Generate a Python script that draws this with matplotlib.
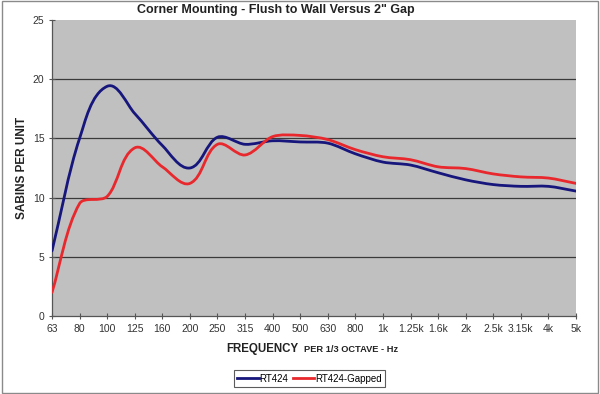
#!/usr/bin/env python3
"""Corner mounting absorption chart: flush to wall vs 2 inch gap."""

import matplotlib

matplotlib.use("Agg")

import matplotlib.pyplot as plt
import numpy as np
from matplotlib.lines import Line2D
from matplotlib.patches import PathPatch, Rectangle
from matplotlib.path import Path

FREQS = ["63", "80", "100", "125", "160", "200", "250", "315", "400", "500",
         "630", "800", "1k", "1.25k", "1.6k", "2k", "2.5k", "3.15k", "4k", "5k"]
RT424 = [5.5, 15.0, 19.4, 17.1, 14.4, 12.5, 15.1, 14.5, 14.8, 14.7,
         14.6, 13.7, 13.0, 12.75, 12.1, 11.5, 11.1, 10.95, 10.95, 10.55]
RT424_GAPPED = [2.0, 9.5, 10.1, 14.2, 12.6, 11.2, 14.5, 13.6, 15.15, 15.25,
                14.9, 14.05, 13.45, 13.2, 12.6, 12.45, 12.0, 11.75, 11.65, 11.2]

COLORS = {
    "plot_bg": "#c0c0c0",
    "blue": "#16167c",
    "red": "#e8282c",
    "grid": "#3a3a3a",
    "text": "#222222",
    "tick_text": "#333333",
    "frame": "#8a8a8a",
}

AX_W_PX, AX_H_PX = 524, 296


def smooth_path(xs, ys, xmax, ymax, k=0.3):
    # Excel style smoothed line: Bezier arms follow the neighbour direction,
    # arm length proportional to the segment length on screen
    sx = AX_W_PX / xmax
    sy = AX_H_PX / ymax
    pts = np.column_stack([np.asarray(xs) * sx, np.asarray(ys) * sy]).astype(float)
    n = len(pts)
    tang = []
    for i in range(n):
        a = pts[max(i - 1, 0)]
        b = pts[min(i + 1, n - 1)]
        d = b - a
        tang.append(d / np.hypot(*d))
    verts = [pts[0]]
    codes = [Path.MOVETO]
    for i in range(n - 1):
        seg = np.hypot(*(pts[i + 1] - pts[i]))
        c1 = pts[i] + tang[i] * seg * k
        c2 = pts[i + 1] - tang[i + 1] * seg * k
        verts += [c1, c2, pts[i + 1]]
        codes += [Path.CURVE4] * 3
    verts = np.array(verts) / np.array([sx, sy])
    return Path(verts, codes)


def main() -> None:
    plt.rcParams["font.family"] = ["Liberation Sans", "DejaVu Sans"]

    fig = plt.figure(figsize=(6.0, 3.94), dpi=100)
    ax = fig.add_axes([52 / 600, 1 - 316 / 394, AX_W_PX / 600, AX_H_PX / 394])
    ax.set_facecolor(COLORS["plot_bg"])

    x = np.arange(len(FREQS))
    xmax, ymax = len(FREQS) - 1, 25
    for series, color in ((RT424, COLORS["blue"]), (RT424_GAPPED, COLORS["red"])):
        ax.add_patch(PathPatch(smooth_path(x, series, xmax, ymax), facecolor="none",
                               edgecolor=color, lw=2.0, zorder=3,
                               capstyle="round", joinstyle="round"))

    ax.set_xlim(0, xmax)
    ax.set_ylim(0, ymax)
    ax.set_xticks(x)
    ax.set_xticklabels(FREQS)
    ax.set_yticks(np.arange(0, 26, 5))
    for v in (5, 10, 15, 20):
        ax.axhline(v, color=COLORS["grid"], lw=0.9, zorder=1)

    for side in ("top", "right"):
        ax.spines[side].set_visible(False)
    for side in ("left", "bottom"):
        ax.spines[side].set_color("#555555")
        ax.spines[side].set_linewidth(0.9)
    ax.tick_params(axis="both", direction="inout", length=5, width=0.8,
                   color="#555555", labelsize=7.5, labelcolor=COLORS["tick_text"], pad=3)

    fig.text(276 / 600, 1 - 10 / 394, 'Corner Mounting - Flush to Wall Versus 2" Gap',
             ha="center", va="center", fontsize=9, fontweight="bold", color=COLORS["text"])
    fig.text(22 / 600, 1 - 168 / 394, "SABINS PER UNIT", rotation=90,
             ha="center", va="center", fontsize=8.5, fontweight="bold", color=COLORS["text"])
    fig.text(298 / 600, 1 - 349 / 394, "FREQUENCY", ha="right", va="center",
             fontsize=8.3, fontweight="bold", color=COLORS["text"])
    fig.text(304 / 600, 1 - 349.5 / 394, "PER 1/3 OCTAVE - Hz", ha="left", va="center",
             fontsize=6.7, fontweight="bold", color=COLORS["text"])

    handles = [Line2D([], [], color=COLORS["blue"], lw=2.0),
               Line2D([], [], color=COLORS["red"], lw=2.0)]
    leg = fig.legend(handles, ["RT424", "RT424-Gapped"], loc="center",
                     bbox_to_anchor=(309.5 / 600, 1 - 378.5 / 394), ncol=2,
                     fontsize=7, frameon=True, fancybox=False, handlelength=2.2,
                     handletextpad=0.05, columnspacing=0.5, borderpad=0.35)
    leg.get_frame().set_edgecolor("#333333")
    leg.get_frame().set_linewidth(0.8)

    fig.patches.append(Rectangle((2 / 600, 1 / 394), 596 / 600, 392 / 394,
                                 transform=fig.transFigure, fill=False,
                                 edgecolor=COLORS["frame"], lw=1.0))

    fig.savefig("out.png", dpi=100)
    plt.close(fig)


if __name__ == "__main__":
    main()
